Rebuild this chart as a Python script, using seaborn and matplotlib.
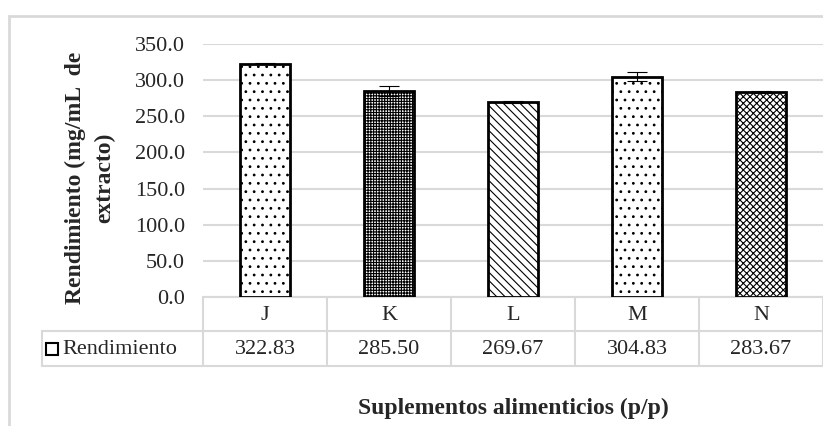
import pandas as pd
import matplotlib.pyplot as plt
import matplotlib.transforms as mtransforms
from matplotlib.patches import Rectangle
import seaborn as sns

# data
suplementos = ['J', 'K', 'L', 'M', 'N']
rendimiento = [322.83, 285.50, 269.67, 304.83, 283.67]
error = [0.5, 7.0, 1.5, 6.0, 1.5]
etiquetas = ['322.83', '285.50', '269.67', '304.83', '283.67']
hatches = ['..', '++++++', '\\\\\\\\', '..', 'xxxxx']

GRID = '#d9d9d9'
FS = 16
FS_LAB = 17


def create_fig(df, out_path):
    sns.set_theme(style='white')
    plt.rcParams['font.family'] = ['Liberation Serif', 'DejaVu Serif']
    plt.rcParams['hatch.linewidth'] = 0.8

    fig = plt.figure(figsize=(8.23, 4.26), dpi=100)
    ax = fig.add_axes([203 / 823, 1 - 297 / 426, 620 / 823, 253 / 426])

    sns.barplot(data=df, x='suplemento', y='rendimiento', order=suplementos,
                color='white', edgecolor='black', linewidth=2, width=0.41,
                errorbar=None, ax=ax, zorder=3)
    for bar, h in zip(ax.patches, hatches):
        bar.set_hatch(h)
    ax.errorbar(x=range(len(suplementos)), y=df['rendimiento'], yerr=df['error'],
                fmt='none', ecolor='black', elinewidth=0.8, capsize=7, capthick=0.8, zorder=4)

    ax.set_ylim(0, 350)
    ax.set_xlim(-0.5, len(suplementos) - 0.5)
    ax.set_yticks(range(0, 351, 50))
    ax.set_yticklabels([f'{v:.1f}' for v in range(0, 351, 50)], fontsize=FS)
    ax.tick_params(axis='y', length=0, pad=13)
    ax.set_xticks([])
    ax.set_xlabel('')
    ax.set_ylabel('')
    ax.yaxis.grid(True, color=GRID, linewidth=1.5, zorder=0)
    ax.set_axisbelow(True)
    sns.despine(ax=ax, left=True, bottom=True)

    # data table below the axes
    blend = mtransforms.blended_transform_factory(ax.transData, ax.transAxes)
    y_row1, y_row2 = -34 / 253, -69 / 253
    x_left = (42 - 203) / 620
    ax.plot([-0.5, 4.5], [0, 0], transform=blend, color=GRID, lw=1.5, clip_on=False)
    for y in (y_row1, y_row2):
        ax.plot([x_left, 1], [y, y], transform=ax.transAxes, color=GRID, lw=1.5, clip_on=False)
    for i in range(len(suplementos) + 1):
        ax.plot([i - 0.5, i - 0.5], [0, y_row2], transform=blend, color=GRID, lw=1.5, clip_on=False)
    ax.plot([x_left, x_left], [y_row1, y_row2], transform=ax.transAxes, color=GRID, lw=1.5, clip_on=False)
    for i, (cat, lab) in enumerate(zip(suplementos, etiquetas)):
        ax.text(i, -18 / 253, cat, transform=blend, ha='center', va='center', fontsize=FS)
        ax.text(i, -52 / 253, lab, transform=blend, ha='center', va='center', fontsize=FS)
    ax.plot([(52 - 203) / 620], [-52 / 253], transform=ax.transAxes, marker='s', ms=8,
            mfc='white', mec='black', mew=1.5, clip_on=False)
    ax.text((62 - 203) / 620, -52 / 253, 'Rendimiento', transform=ax.transAxes,
            ha='left', va='center', fontsize=FS)

    ax.text((90 - 203) / 620, (297 - 178) / 253, 'Rendimiento (mg/mL  de\nextracto)',
            transform=ax.transAxes, rotation=90, ha='center', va='center',
            multialignment='center', fontsize=FS_LAB, fontweight='bold', linespacing=1.55)
    fig.text(513 / 823, 1 - 408 / 426, 'Suplementos alimenticios (p/p)',
             ha='center', va='center', fontsize=FS_LAB, fontweight='bold')

    fig.add_artist(Rectangle((9 / 823, -0.1), 1.2, 1.1 - 16 / 426, transform=fig.transFigure,
                             fill=False, edgecolor=GRID, linewidth=2))

    fig.savefig(out_path, dpi=100)


if __name__ == '__main__':
    df = pd.DataFrame({'suplemento': suplementos, 'rendimiento': rendimiento, 'error': error})
    create_fig(df, 'out.png')
